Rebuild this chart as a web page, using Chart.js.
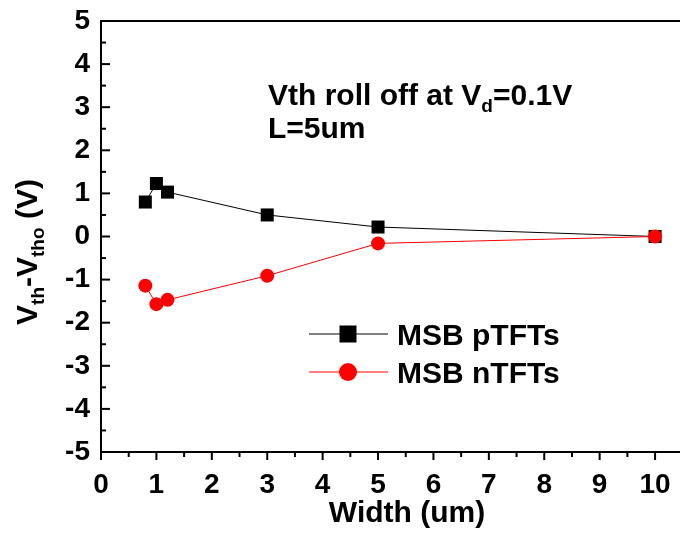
<!DOCTYPE html>
<html>
<head>
<meta charset="utf-8">
<script src="https://cdn.jsdelivr.net/npm/chart.js@4.4.0/dist/chart.umd.min.js"></script>
<style>
  html, body { margin: 0; padding: 0; background: #fff; }
  #wrap { width: 680px; height: 534px; }
</style>
</head>
<body>
<div id="wrap"><canvas id="myChart" width="680" height="534"></canvas></div>
<script>
const anchos = [0.8, 1, 1.2, 3, 5, 10];
const pTFTs = [0.80, 1.23, 1.03, 0.50, 0.22, 0.00];
const nTFTs = [-1.14, -1.57, -1.47, -0.91, -0.16, 0.00];
const etiquetas = ['MSB pTFTs', 'MSB nTFTs'];

const FUENTE = '"Liberation Sans", Arial, sans-serif';

function puntos(ys) {
    return anchos.map((x, i) => ({ x: x, y: ys[i] }));
}

// ticks hacia dentro, marco superior, titulos y leyenda
const extras = {
    id: 'extras',
    afterDraw(chart) {
        const ctx = chart.ctx;
        const xs = chart.scales.x;
        const ys = chart.scales.y;
        const area = chart.chartArea;
        ctx.save();
        ctx.strokeStyle = '#000';
        ctx.lineWidth = 2;

        // marco superior
        ctx.beginPath();
        ctx.moveTo(area.left, area.top);
        ctx.lineTo(area.right, area.top);
        ctx.stroke();

        // ticks eje x (hacia abajo)
        for (let v = 0; v <= xs.max; v += 0.5) {
            const px = xs.getPixelForValue(v);
            const largo = Number.isInteger(v) ? 8 : 5;
            ctx.beginPath();
            ctx.moveTo(px, area.bottom);
            ctx.lineTo(px, area.bottom + largo);
            ctx.stroke();
        }
        // ticks eje y (hacia dentro)
        for (let v = -5; v <= 5; v += 0.5) {
            const py = ys.getPixelForValue(v);
            const largo = Number.isInteger(v) ? 9 : 5;
            ctx.beginPath();
            ctx.moveTo(area.left, py);
            ctx.lineTo(area.left + largo, py);
            ctx.stroke();
        }

        ctx.fillStyle = '#000';
        ctx.textBaseline = 'alphabetic';

        // texto con subindices
        function trozos(lista, x, y) {
            let cx = x;
            lista.forEach(t => {
                ctx.font = 'bold ' + (t.sub ? 19 : 30) + 'px ' + FUENTE;
                ctx.fillText(t.s, cx, y + (t.sub ? 7 : 0));
                cx += ctx.measureText(t.s).width;
            });
            return cx - x;
        }
        function medir(lista) {
            let w = 0;
            lista.forEach(t => {
                ctx.font = 'bold ' + (t.sub ? 19 : 30) + 'px ' + FUENTE;
                w += ctx.measureText(t.s).width;
            });
            return w;
        }

        ctx.textAlign = 'left';
        trozos([{ s: 'Vth roll off at V' }, { s: 'd', sub: true }, { s: '=0.1V' }], 268, 105);
        trozos([{ s: 'L=5um' }], 268, 138);

        // titulo eje x
        ctx.font = 'bold 30px ' + FUENTE;
        ctx.textAlign = 'center';
        ctx.fillText('Width (um)', 407, 522);

        // titulo eje y
        const tituloY = [{ s: 'V' }, { s: 'th', sub: true }, { s: '-V' }, { s: 'tho', sub: true }, { s: ' (V)' }];
        ctx.save();
        ctx.translate(37, 252);
        ctx.rotate(-Math.PI / 2);
        ctx.textAlign = 'left';
        trozos(tituloY, -medir(tituloY) / 2, 0);
        ctx.restore();

        // leyenda
        chart.data.datasets.forEach((ds, i) => {
            const y = 334 + i * 38;
            ctx.strokeStyle = ds.borderColor;
            ctx.lineWidth = 1;
            ctx.beginPath();
            ctx.moveTo(309, y);
            ctx.lineTo(388, y);
            ctx.stroke();
            ctx.fillStyle = ds.pointBackgroundColor;
            if (ds.pointStyle === 'rect') {
                ctx.fillRect(348 - 8.5, y - 8.5, 17, 17);
            } else {
                ctx.beginPath();
                ctx.arc(348, y, 9, 0, Math.PI * 2);
                ctx.fill();
            }
            ctx.fillStyle = '#000';
            ctx.font = 'bold 30px ' + FUENTE;
            ctx.textAlign = 'left';
            ctx.fillText(etiquetas[i], 397, y + 11);
        });
        ctx.restore();
    }
};

const ctx = document.getElementById('myChart').getContext('2d');
const myChart = new Chart(ctx, {
    type: 'scatter',
    data: {
        datasets: [{
            label: etiquetas[0],
            data: puntos(pTFTs),
            showLine: true,
            borderColor: '#000000',
            borderWidth: 1,
            pointStyle: 'rect',
            pointRadius: 9.2,
            pointBackgroundColor: '#000000',
            pointBorderWidth: 0,
            order: 2
        }, {
            label: etiquetas[1],
            data: puntos(nTFTs),
            showLine: true,
            borderColor: '#ff0000',
            borderWidth: 1,
            pointStyle: 'circle',
            pointRadius: 7,
            pointBackgroundColor: '#ff0000',
            pointBorderWidth: 0,
            order: 1
        }]
    },
    options: {
        responsive: false,
        animation: false,
        layout: { autoPadding: false, padding: { left: 0, top: 21, right: 0, bottom: 0 } },
        plugins: {
            legend: { display: false },
            tooltip: { enabled: false }
        },
        scales: {
            x: {
                type: 'linear',
                min: 0,
                max: 10.45,
                afterFit: s => { s.height = 82; s.paddingLeft = 0; s.paddingRight = 0; },
                grid: { display: false, drawTicks: false },
                border: { display: true, color: '#000', width: 2 },
                ticks: {
                    stepSize: 1,
                    includeBounds: false,
                    padding: 16,
                    color: '#000',
                    font: { family: FUENTE, size: 28, weight: 'bold' }
                }
            },
            y: {
                min: -5,
                max: 5,
                afterFit: s => { s.width = 101; s.paddingTop = 0; s.paddingBottom = 0; },
                grid: { display: false, drawTicks: false },
                border: { display: true, color: '#000', width: 2 },
                ticks: {
                    stepSize: 1,
                    padding: 11,
                    color: '#000',
                    font: { family: FUENTE, size: 28, weight: 'bold' }
                }
            }
        }
    },
    plugins: [extras]
});
</script>
</body>
</html>
